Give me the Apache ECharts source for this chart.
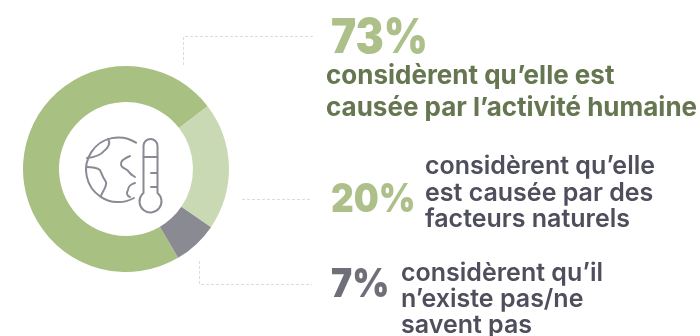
<!DOCTYPE html>
<html><head><meta charset="utf-8">
<style>html,body{margin:0;padding:0;background:#fff}#c{width:700px;height:336px}</style>
<script src="https://cdn.jsdelivr.net/npm/echarts@6/dist/echarts.min.js"></script></head>
<body><div id="c"></div>
<script>
const categories = ["causée par l’activité humaine","causée par des facteurs naturels","n’existe pas/ne savent pas"];
const values = [73, 20, 7];
const sliceColors = ["#a9c083","#c9d9b3","#8a8a93"];
const percentLabels = ["73%","20%","7%"];
const captionTop = ["considèrent qu’elle est","causée par l’activité humaine"];
const captionMiddle = ["considèrent qu’elle","est causée par des","facteurs naturels"];
const captionBottom = ["considèrent qu’il","n’existe pas/ne","savent pas"];
const FF = "Inter";
function txt(s,x,base,size,weight,fill,sx){
  return {type:'text',silent:true,x:x,y:base-size*0.30,scaleX:sx||1,style:{text:s,fill:fill,font:weight+' '+size+'px '+FF,align:'left',verticalAlign:'middle'}};
}
function lines(arr,x,bases,size,weight,fill){return arr.map((s,i)=>txt(s,x,bases[i],size,weight,fill));}
function dashed(pts){return {type:'polyline',silent:true,shape:{points:pts},style:{fill:null,stroke:'#dcdcdc',lineWidth:1,lineDash:[3,2]}};}
const iconPaths = [
 "M136 142.7 A32.3 32.3 0 1 0 134 198",
 "M108 139 C111 143 108 148 104 151 C101 155 96 157 87 158",
 "M86.5 167 C91 167 96 167 100 170 C102 175 103 178 106 182 C107 187 103 190 101 196",
 "M130 156 C125 158 120 161 121 165 C122 169 127 168 129 172 C130 174 132 175 135 177",
 "M135 183 C131 184 128 187 128 190 C126 193 127 196 130 197",
 "M143.5 193 L143.5 146 A7 7 0 0 1 157.5 146 L157.5 193 A11 11 0 1 1 143.5 193 Z",
 "M143.5 157 L157.5 157",
 "M151 173 L157 173",
 "M151 187 L157 187"
];
const chart = echarts.init(document.getElementById('c'),null,{renderer:'canvas'});
chart.setOption({
  animation:false,
  series:[{type:'pie',center:[126,169],radius:[67,103],startAngle:-59.6,clockwise:true,silent:true,
    label:{show:false},labelLine:{show:false},
    data:categories.map((n,i)=>({name:n,value:values[i],itemStyle:{color:sliceColors[i]}}))},
   {type:'custom',coordinateSystem:'none',silent:true,data:[0],
    renderItem:()=>({type:'group',children:iconPaths.map(d=>({type:'path',shape:{pathData:d},
      style:{fill:null,stroke:'#8a8a94',lineWidth:2,lineCap:'round',lineJoin:'round'}}))})}],
  graphic:{elements:[
    dashed([[313,36.5],[183.5,36.5],[183.5,65]]),
    dashed([[242,199.5],[312,199.5]]),
    dashed([[199.5,261],[199.5,284.5],[312,284.5]]),
    txt(percentLabels[0],331,53,48,900,'#adc08a',0.88),
    txt(percentLabels[1],331,211.5,40,900,'#adc08a',0.88),
    txt(percentLabels[2],331,296.5,40,900,'#6f6f79',0.89),
    ...lines(captionTop,326,[84,116],26,700,'#667650'),
    ...lines(captionMiddle,425,[173.5,201,227],25,600,'#4e4e5c'),
    ...lines(captionBottom,401,[280.5,306.5,333],25,600,'#4e4e5c')
  ]}
});
</script></body></html>
